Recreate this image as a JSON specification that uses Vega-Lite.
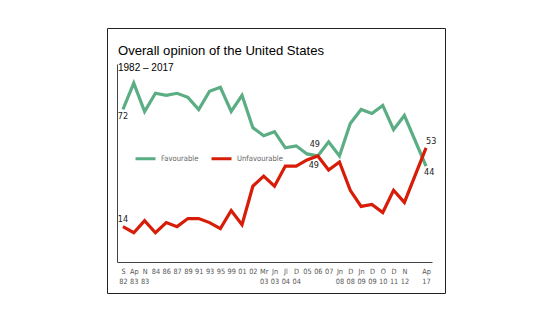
{
  "$schema": "https://vega.github.io/schema/vega-lite/v6.json",
  "autosize": {"type": "none"},
  "padding": {"left": 107, "top": 28, "right": 113, "bottom": 34},
  "width": 338,
  "height": 265,
  "background": "white",
  "config": {
    "view": {"stroke": "#222222", "strokeWidth": 1},
    "font": "Liberation Sans"
  },
  "title": {
    "text": "Overall opinion of the United States",
    "subtitle": "1982 – 2017",
    "anchor": "start",
    "frame": "group",
    "offset": -45,
    "dx": 11,
    "font": "Liberation Sans",
    "fontSize": 13.1,
    "fontWeight": "normal",
    "color": "#000000",
    "subtitleFont": "Liberation Sans",
    "subtitleFontSize": 10,
    "subtitleColor": "#000000",
    "subtitlePadding": 5
  },
  "data": {
    "values": [
      {"idx": 0, "period": "S 82", "series": "Favourable", "value": 72},
      {"idx": 1, "period": "Ap 83", "series": "Favourable", "value": 85},
      {"idx": 2, "period": "N 83", "series": "Favourable", "value": 71},
      {"idx": 3, "period": "84", "series": "Favourable", "value": 80},
      {"idx": 4, "period": "86", "series": "Favourable", "value": 79},
      {"idx": 5, "period": "87", "series": "Favourable", "value": 80},
      {"idx": 6, "period": "89", "series": "Favourable", "value": 78},
      {"idx": 7, "period": "91", "series": "Favourable", "value": 72},
      {"idx": 8, "period": "93", "series": "Favourable", "value": 81},
      {"idx": 9, "period": "95", "series": "Favourable", "value": 83},
      {"idx": 10, "period": "99", "series": "Favourable", "value": 71},
      {"idx": 11, "period": "01", "series": "Favourable", "value": 79},
      {"idx": 12, "period": "02", "series": "Favourable", "value": 63},
      {"idx": 13, "period": "Mr 03", "series": "Favourable", "value": 59},
      {"idx": 14, "period": "Jn 03", "series": "Favourable", "value": 61},
      {"idx": 15, "period": "Jl 04", "series": "Favourable", "value": 53},
      {"idx": 16, "period": "D 04", "series": "Favourable", "value": 54},
      {"idx": 17, "period": "05", "series": "Favourable", "value": 50},
      {"idx": 18, "period": "06", "series": "Favourable", "value": 49},
      {"idx": 19, "period": "07", "series": "Favourable", "value": 56},
      {"idx": 20, "period": "Jn 08", "series": "Favourable", "value": 49},
      {"idx": 21, "period": "D 08", "series": "Favourable", "value": 65},
      {"idx": 22, "period": "Jn 09", "series": "Favourable", "value": 72},
      {"idx": 23, "period": "D 09", "series": "Favourable", "value": 70},
      {"idx": 24, "period": "O 10", "series": "Favourable", "value": 74},
      {"idx": 25, "period": "D 11", "series": "Favourable", "value": 62},
      {"idx": 26, "period": "N 12", "series": "Favourable", "value": 69},
      {"idx": 28, "period": "Ap 17", "series": "Favourable", "value": 44},
      {"idx": 0, "period": "S 82", "series": "Unfavourable", "value": 14},
      {"idx": 1, "period": "Ap 83", "series": "Unfavourable", "value": 11},
      {"idx": 2, "period": "N 83", "series": "Unfavourable", "value": 17},
      {"idx": 3, "period": "84", "series": "Unfavourable", "value": 11},
      {"idx": 4, "period": "86", "series": "Unfavourable", "value": 16},
      {"idx": 5, "period": "87", "series": "Unfavourable", "value": 14},
      {"idx": 6, "period": "89", "series": "Unfavourable", "value": 18},
      {"idx": 7, "period": "91", "series": "Unfavourable", "value": 18},
      {"idx": 8, "period": "93", "series": "Unfavourable", "value": 16},
      {"idx": 9, "period": "95", "series": "Unfavourable", "value": 13},
      {"idx": 10, "period": "99", "series": "Unfavourable", "value": 22},
      {"idx": 11, "period": "01", "series": "Unfavourable", "value": 15},
      {"idx": 12, "period": "02", "series": "Unfavourable", "value": 34},
      {"idx": 13, "period": "Mr 03", "series": "Unfavourable", "value": 39},
      {"idx": 14, "period": "Jn 03", "series": "Unfavourable", "value": 34},
      {"idx": 15, "period": "Jl 04", "series": "Unfavourable", "value": 44},
      {"idx": 16, "period": "D 04", "series": "Unfavourable", "value": 44},
      {"idx": 17, "period": "05", "series": "Unfavourable", "value": 47},
      {"idx": 18, "period": "06", "series": "Unfavourable", "value": 49},
      {"idx": 19, "period": "07", "series": "Unfavourable", "value": 42},
      {"idx": 20, "period": "Jn 08", "series": "Unfavourable", "value": 46},
      {"idx": 21, "period": "D 08", "series": "Unfavourable", "value": 32},
      {"idx": 22, "period": "Jn 09", "series": "Unfavourable", "value": 24},
      {"idx": 23, "period": "D 09", "series": "Unfavourable", "value": 25},
      {"idx": 24, "period": "O 10", "series": "Unfavourable", "value": 21},
      {"idx": 25, "period": "D 11", "series": "Unfavourable", "value": 32},
      {"idx": 26, "period": "N 12", "series": "Unfavourable", "value": 26},
      {"idx": 28, "period": "Ap 17", "series": "Unfavourable", "value": 53}
    ]
  },
  "encoding": {
    "x": {
      "field": "period",
      "type": "ordinal",
      "scale": {
        "type": "point",
        "domain": ["S 82", "Ap 83", "N 83", "84", "86", "87", "89", "91", "93", "95", "99", "01", "02", "Mr 03", "Jn 03", "Jl 04", "D 04", "05", "06", "07", "Jn 08", "D 08", "Jn 09", "D 09", "O 10", "D 11", "N 12", "gap", "Ap 17"],
        "range": [10, 325],
        "padding": 0.55
      },
      "axis": {
        "title": null,
        "orient": "bottom",
        "offset": -31,
        "domainColor": "#444444",
        "domainWidth": 1,
        "ticks": false,
        "grid": false,
        "labelAngle": 0,
        "labelOverlap": false,
        "labelFlush": false,
        "labelBound": false,
        "labelPadding": 5,
        "labelFont": "Liberation Sans Narrow, DejaVu Sans Condensed, Liberation Sans",
        "labelFontSize": 7.3,
        "labelLineHeight": 10,
        "labelColor": "#555555",
        "labelExpr": "datum.value == 'gap' ? '' : split(datum.value, ' ')"
      }
    },
    "y": {
      "field": "value",
      "type": "quantitative",
      "scale": {"domain": [-3.5, 94.5], "range": [234, 36], "nice": false, "zero": false},
      "axis": {
        "title": null,
        "orient": "left",
        "offset": -10,
        "labels": false,
        "ticks": false,
        "grid": false,
        "domainColor": "#444444",
        "domainWidth": 1
      }
    }
  },
  "layer": [
    {
      "mark": {"type": "line", "strokeWidth": 3.2, "strokeJoin": "miter"},
      "encoding": {
        "color": {
          "field": "series",
          "type": "nominal",
          "scale": {"domain": ["Favourable", "Unfavourable"], "range": ["#5BAD83", "#D71C08"]},
          "legend": {
            "title": null,
            "orient": "none",
            "legendX": 27,
            "legendY": 119,
            "direction": "horizontal",
            "symbolType": "stroke",
            "symbolSize": 400,
            "symbolStrokeWidth": 3,
            "labelFont": "Liberation Sans Narrow, DejaVu Sans Condensed, Liberation Sans",
            "labelFontSize": 7.6,
            "labelColor": "#666666",
            "labelOffset": 4,
            "columnPadding": 6
          }
        },
        "order": {"field": "idx", "type": "quantitative"}
      }
    },
    {
      "transform": [{"filter": "datum.series == 'Favourable' && datum.idx == 0"}],
      "mark": {"type": "text", "align": "center", "baseline": "top", "dy": 3, "fontSize": 9, "font": "Liberation Sans Narrow, DejaVu Sans Condensed, Liberation Sans", "color": "#222222"},
      "encoding": {"text": {"field": "value", "type": "quantitative"}}
    },
    {
      "transform": [{"filter": "datum.series == 'Unfavourable' && datum.idx == 0"}],
      "mark": {"type": "text", "align": "center", "baseline": "bottom", "dy": -3, "fontSize": 9, "font": "Liberation Sans Narrow, DejaVu Sans Condensed, Liberation Sans", "color": "#222222"},
      "encoding": {"text": {"field": "value", "type": "quantitative"}}
    },
    {
      "transform": [{"filter": "datum.series == 'Favourable' && datum.idx == 18"}],
      "mark": {"type": "text", "align": "center", "baseline": "bottom", "dx": -3, "dy": -7, "fontSize": 9, "font": "Liberation Sans Narrow, DejaVu Sans Condensed, Liberation Sans", "color": "#222222"},
      "encoding": {"text": {"field": "value", "type": "quantitative"}}
    },
    {
      "transform": [{"filter": "datum.series == 'Unfavourable' && datum.idx == 18"}],
      "mark": {"type": "text", "align": "center", "baseline": "top", "dx": -4, "dy": 5, "fontSize": 9, "font": "Liberation Sans Narrow, DejaVu Sans Condensed, Liberation Sans", "color": "#222222"},
      "encoding": {"text": {"field": "value", "type": "quantitative"}}
    },
    {
      "transform": [{"filter": "datum.series == 'Unfavourable' && datum.idx == 28"}],
      "mark": {"type": "text", "align": "left", "baseline": "bottom", "dx": 0, "dy": -2, "fontSize": 9, "font": "Liberation Sans Narrow, DejaVu Sans Condensed, Liberation Sans", "color": "#222222"},
      "encoding": {"text": {"field": "value", "type": "quantitative"}}
    },
    {
      "transform": [{"filter": "datum.series == 'Favourable' && datum.idx == 28"}],
      "mark": {"type": "text", "align": "left", "baseline": "top", "dx": -2, "dy": 2, "fontSize": 9, "font": "Liberation Sans Narrow, DejaVu Sans Condensed, Liberation Sans", "color": "#222222"},
      "encoding": {"text": {"field": "value", "type": "quantitative"}}
    }
  ]
}
